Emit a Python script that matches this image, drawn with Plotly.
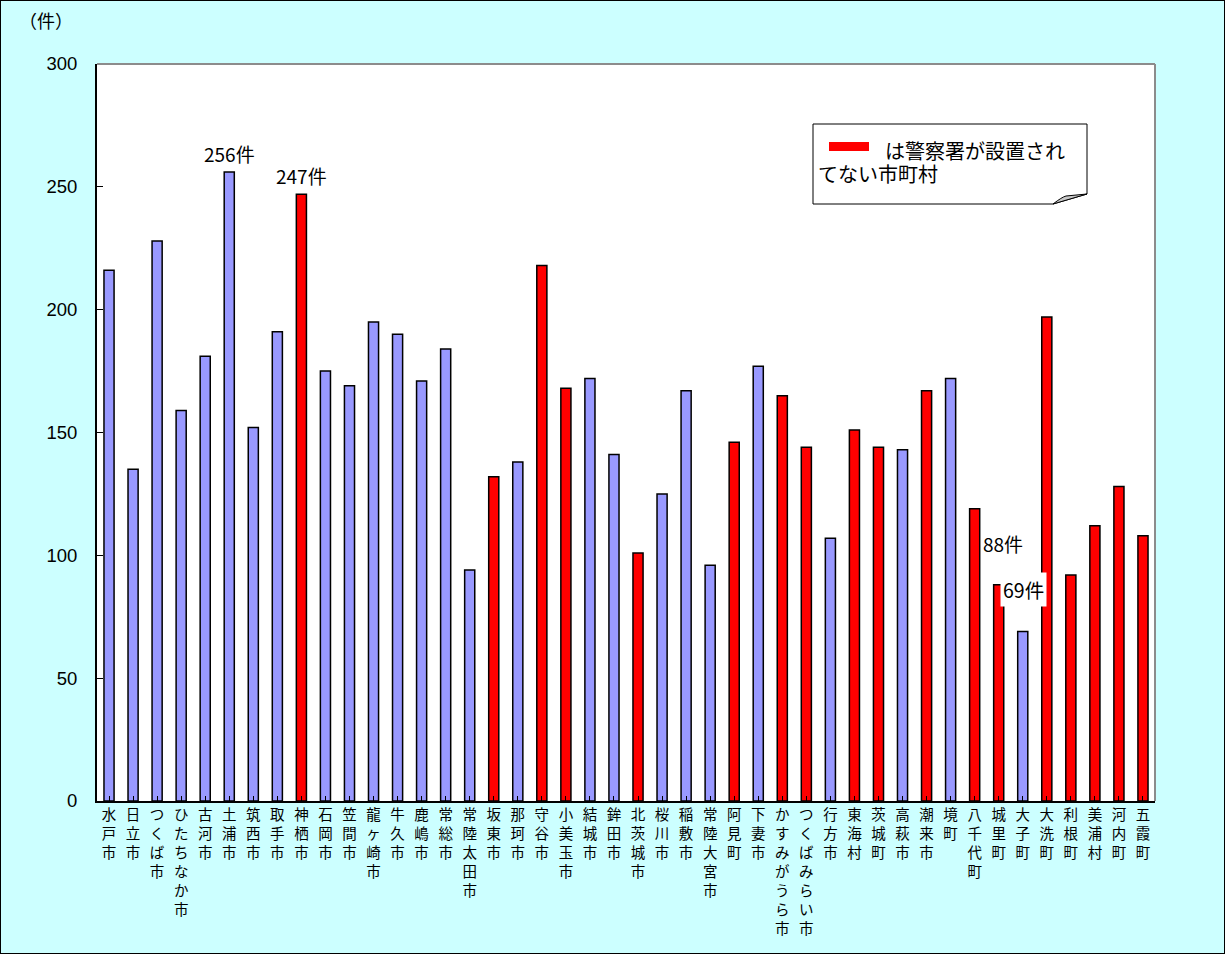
import plotly.graph_objects as go

# ---- data ----
municipalities = [
    "水戸市", "日立市", "つくば市", "ひたちなか市", "古河市", "土浦市", "筑西市", "取手市",
    "神栖市", "石岡市", "笠間市", "龍ヶ崎市", "牛久市", "鹿嶋市", "常総市", "常陸太田市",
    "坂東市", "那珂市", "守谷市", "小美玉市", "結城市", "鉾田市", "北茨城市", "桜川市",
    "稲敷市", "常陸大宮市", "阿見町", "下妻市", "かすみがうら市", "つくばみらい市", "行方市", "東海村",
    "茨城町", "高萩市", "潮来市", "境町", "八千代町", "城里町", "大子町", "大洗町",
    "利根町", "美浦村", "河内町", "五霞町",
]
counts = [
    216, 135, 228, 159, 181, 256, 152, 191,
    247, 175, 169, 195, 190, 171, 184, 94,
    132, 138, 218, 168, 172, 141, 101, 125,
    167, 96, 146, 177, 165, 144, 107, 151,
    144, 143, 167, 172, 119, 88, 69, 197,
    92, 112, 128, 108,
]
# 1 = no police station (red)
no_police = [
    0, 0, 0, 0, 0, 0, 0, 0,
    1, 0, 0, 0, 0, 0, 0, 0,
    1, 0, 1, 1, 0, 0, 1, 0,
    0, 0, 1, 0, 1, 1, 0, 1,
    1, 0, 1, 0, 1, 1, 0, 1,
    1, 1, 1, 1,
]
y_ticks = [0, 50, 100, 150, 200, 250, 300]

# ---- styling ----
BLUE = "#9999FF"
RED = "#FF0000"
BG = "#CCFFFF"
FONT = "Noto Sans CJK JP"
W, H = 1225, 954
L, R, T, B = 97, 70, 64, 153
PW, PH = W - L - R, H - T - B


def px(xp):
    return (xp - L) / PW


def py(yp):
    return (H - B - yp) / PH


colors = [RED if f else BLUE for f in no_police]
idx = list(range(len(municipalities)))
ticktext = ["<br>".join(list(n)) for n in municipalities]

fig = go.Figure(
    go.Bar(
        x=idx,
        y=counts,
        width=0.42,
        marker=dict(color=colors, line=dict(color="black", width=1.5)),
        hoverinfo="x+y",
    )
)

fig.update_layout(
    width=W,
    height=H,
    margin=dict(l=L, r=R, t=T, b=B),
    paper_bgcolor=BG,
    plot_bgcolor="white",
    showlegend=False,
    font=dict(family=FONT, color="black"),
)

fig.update_xaxes(
    range=[-0.5, len(municipalities) - 0.5],
    tickmode="array",
    tickvals=idx,
    ticktext=ticktext,
    tickangle=0,
    tickfont=dict(size=14.5, family=FONT),
    ticks="inside",
    tickson="boundaries",
    ticklen=5,
    tickcolor="black",
    showline=True,
    linecolor="black",
    linewidth=2,
    showgrid=False,
    zeroline=False,
)
fig.update_yaxes(
    range=[0, 300],
    tickmode="array",
    tickvals=y_ticks,
    ticktext=[str(v) for v in y_ticks],
    tickfont=dict(size=18.5, family="Liberation Sans, Arial"),
    ticks="inside",
    ticklen=6,
    tickcolor="black",
    showline=True,
    linecolor="black",
    linewidth=2,
    showgrid=False,
    zeroline=False,
    ticklabelstandoff=14,
)

shapes = [
    # gray top and right border of plot area
    dict(type="line", xref="paper", yref="paper", x0=0, x1=1, y0=1, y1=1,
         line=dict(color="#8C8C8C", width=2), layer="below"),
    dict(type="line", xref="paper", yref="paper", x0=1, x1=1, y0=0, y1=1,
         line=dict(color="#8C8C8C", width=2), layer="below"),
]

# legend-like note box with folded corner
bx0, bx1, by0, by1 = 813, 1087, 124, 204
fold_x, fold_y = 1053, 194
path = (f"M {px(bx0)},{py(by0)} L {px(bx1)},{py(by0)} L {px(bx1)},{py(fold_y)} "
        f"L {px(fold_x)},{py(by1)} L {px(bx0)},{py(by1)} Z")
shapes.append(dict(type="path", xref="paper", yref="paper", path=path,
                   fillcolor="white", line=dict(color="black", width=1)))
fold = (f"M {px(fold_x)},{py(by1)} Q {px(1062)},{py(197)} {px(1066)},{py(196)} "
        f"L {px(bx1)},{py(fold_y)} Z")
shapes.append(dict(type="path", xref="paper", yref="paper", path=fold,
                   fillcolor="#C8C8C8", line=dict(color="black", width=1)))
# red swatch
shapes.append(dict(type="rect", xref="paper", yref="paper",
                   x0=px(829), x1=px(869), y0=py(151), y1=py(142),
                   fillcolor=RED, line=dict(width=0)))

fig.update_layout(shapes=shapes)

annotations = [
    dict(x=0, y=1, xref="paper", yref="paper", xshift=-(L - 17), yshift=(T - 35),
         text="（件）", showarrow=False, xanchor="left", yanchor="bottom",
         font=dict(size=18, family=FONT)),
    dict(x=px(883), y=py(150), xref="paper", yref="paper", text="は警察署が設置され",
         showarrow=False, xanchor="left", yanchor="middle", font=dict(size=20, family=FONT)),
    dict(x=px(816), y=py(173), xref="paper", yref="paper", text="てない市町村",
         showarrow=False, xanchor="left", yanchor="middle", font=dict(size=20, family=FONT)),
]

# value labels
for i, txt in [(5, "256件"), (8, "247件")]:
    annotations.append(dict(x=i, y=counts[i], xref="x", yref="y", text=txt,
                            showarrow=False, xanchor="center", yanchor="bottom",
                            yshift=3, font=dict(size=19, family=FONT)))
annotations.append(dict(x=37, y=counts[37], xref="x", yref="y", text="88件",
                        showarrow=False, xanchor="center", yanchor="bottom",
                        xshift=4, yshift=26, font=dict(size=19, family=FONT)))
annotations.append(dict(x=38, y=counts[38], xref="x", yref="y", text="69件",
                        showarrow=False, xanchor="center", yanchor="bottom",
                        xshift=1, yshift=24, bgcolor="white", borderpad=2,
                        font=dict(size=19.5, family=FONT)))

fig.update_layout(annotations=annotations)

# outer frame
fig.add_shape(type="rect", xref="paper", yref="paper",
              x0=-L / PW, x1=1 + R / PW, y0=-B / PH, y1=1 + T / PH,
              line=dict(color="black", width=2), fillcolor="rgba(0,0,0,0)", layer="below")

fig.write_html(
    "out.html",
    config={"displayModeBar": False},
    post_script="document.body.style.margin='0';document.body.style.overflow='hidden';",
)
